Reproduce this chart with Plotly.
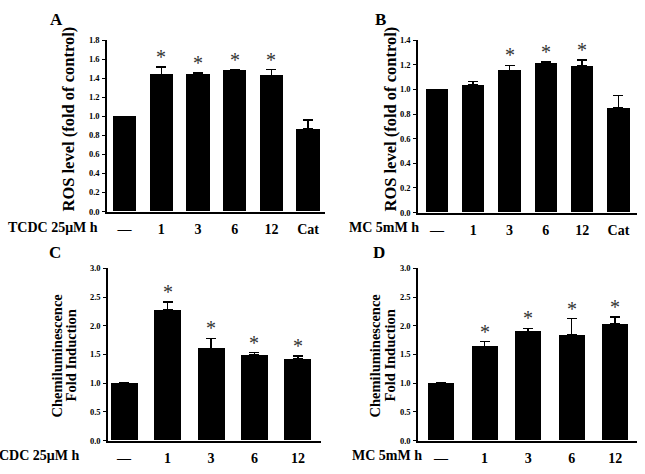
import plotly.graph_objects as go

# ---------------- data ----------------
cats_ab = ["—", "1", "3", "6", "12", "Cat"]
cats_cd = ["—", "1", "3", "6", "12"]

a_vals = [1.00, 1.44, 1.44, 1.48, 1.43, 0.87]
a_err = [0.00, 0.08, 0.015, 0.01, 0.06, 0.09]
a_sig = [False, True, True, True, True, False]

b_vals = [1.00, 1.035, 1.155, 1.213, 1.19, 0.85]
b_err = [0.00, 0.03, 0.04, 0.01, 0.05, 0.10]
b_sig = [False, False, True, True, True, False]

c_vals = [1.00, 2.27, 1.60, 1.49, 1.42]
c_err = [0.00, 0.14, 0.18, 0.04, 0.05]
c_sig = [False, True, True, True, True]

d_vals = [1.00, 1.64, 1.90, 1.84, 2.03]
d_err = [0.00, 0.085, 0.055, 0.285, 0.125]
d_sig = [False, True, True, True, True]

a_ticks = [0.0, 0.2, 0.4, 0.6, 0.8, 1.0, 1.2, 1.4, 1.6, 1.8]
b_ticks = [0.0, 0.2, 0.4, 0.6, 0.8, 1.0, 1.2, 1.4]
cd_ticks = [0.0, 0.5, 1.0, 1.5, 2.0, 2.5, 3.0]

ros_title = "ROS level (fold of control)"
chem_title = ["Chemiluminescence", "Fold Induction"]

# ---------------- layout helpers ----------------
W, H = 645, 474
SERIF = "Liberation Serif, Times New Roman, serif"


def fx(p):
    return p / W


def fy(p):
    return 1 - p / H


def xd(p0, p1):
    return [fx(p0), fx(p1)]


def yd(top, bottom):
    return [fy(bottom), fy(top)]


panels = [
    dict(name="A", cats=cats_ab, vals=a_vals, err=a_err, sig=a_sig, ticks=a_ticks,
         xdom=xd(107, 325), ydom=yd(36, 211), xr=[-0.48, 5.46], yr=[0, 1.8], bw=0.64,
         row="TCDC 25μM h", row_x=100, row_y=227, letter_xy=(56, 15),
         title=[ros_title], title_x=[69], title_y=117, title_size=16.5),
    dict(name="B", cats=cats_ab, vals=b_vals, err=b_err, sig=b_sig, ticks=b_ticks,
         xdom=xd(418, 637), ydom=yd(36, 212), xr=[-0.52, 5.51], yr=[0, 1.4], bw=0.62,
         row="MC 5mM h", row_x=421, row_y=227, letter_xy=(380, 15),
         title=[ros_title], title_x=[391], title_y=117, title_size=16.5),
    dict(name="C", cats=cats_cd, vals=c_vals, err=c_err, sig=c_sig, ticks=cd_ticks,
         xdom=xd(108, 321), ydom=yd(269, 445), xr=[-0.37, 4.53], yr=[0, 3.0], bw=0.62,
         row="CDC 25μM h", row_x=81, row_y=460, letter_xy=(55, 253),
         title=chem_title, title_x=[57, 71], title_y=358, title_size=14.5),
    dict(name="D", cats=cats_cd, vals=d_vals, err=d_err, sig=d_sig, ticks=cd_ticks,
         xdom=xd(418, 637), ydom=yd(269, 445), xr=[-0.53, 4.50], yr=[0, 3.0], bw=0.60,
         row="MC 5mM h", row_x=424, row_y=460, letter_xy=(379, 253),
         title=chem_title, title_x=[375, 390], title_y=358, title_size=14.5),
]

fig = go.Figure()
annotations = []
layout_axes = {}

for i, p in enumerate(panels):
    n = i + 1
    xa = "x" if n == 1 else f"x{n}"
    ya = "y" if n == 1 else f"y{n}"
    xkey = "xaxis" if n == 1 else f"xaxis{n}"
    ykey = "yaxis" if n == 1 else f"yaxis{n}"
    idx = list(range(len(p["cats"])))
    fig.add_trace(go.Bar(
        x=idx, y=p["vals"], xaxis=xa, yaxis=ya, width=p["bw"],
        marker=dict(color="black", line=dict(width=0)),
        error_y=dict(type="data", array=p["err"], symmetric=False,
                     arrayminus=[0] * len(p["err"]),
                     color="black", thickness=1.5, width=5, visible=True),
        showlegend=False, hoverinfo="skip",
    ))
    layout_axes[xkey] = dict(
        domain=p["xdom"], range=p["xr"], anchor=ya,
        tickmode="array", tickvals=idx, ticktext=p["cats"],
        ticks="", showgrid=False, zeroline=False,
        showline=True, linecolor="black", linewidth=1.5,
        tickfont=dict(family=SERIF, size=14, color="black", weight="bold"),
        ticklabelstandoff=4, fixedrange=True,
    )
    layout_axes[ykey] = dict(
        domain=p["ydom"], range=p["yr"], anchor=xa,
        tickmode="array", tickvals=p["ticks"],
        ticktext=[f"{t:.1f}" for t in p["ticks"]],
        ticks="outside", ticklen=3, tickwidth=1, tickcolor="black",
        showgrid=False, zeroline=False,
        showline=True, linecolor="black", linewidth=1.5,
        tickfont=dict(family=SERIF, size=8.5, color="black", weight="bold"),
        ticklabelstandoff=1, fixedrange=True,
    )
    # significance stars
    for j, s in enumerate(p["sig"]):
        if s:
            annotations.append(dict(
                x=j, y=p["vals"][j] + p["err"][j], xref=xa, yref=ya,
                text="*", showarrow=False, yanchor="bottom", yshift=-3,
                font=dict(family=SERIF, size=20, color="#333"),
            ))
    # row label
    annotations.append(dict(
        x=fx(p["row_x"]), y=fy(p["row_y"]), xref="paper", yref="paper",
        text=p["row"], showarrow=False, xanchor="right", yanchor="middle",
        font=dict(family=SERIF, size=14, color="black", weight="bold"),
    ))
    # panel letter
    lx, ly = p["letter_xy"]
    annotations.append(dict(
        x=fx(lx), y=fy(ly), xref="paper", yref="paper",
        text=p["name"], showarrow=False, xanchor="center", yanchor="middle",
        font=dict(family=SERIF, size=17, color="black", weight="bold"),
    ))
    # y titles
    for t, tx in zip(p["title"], p["title_x"]):
        annotations.append(dict(
            x=fx(tx), y=fy(p["title_y"]), xref="paper", yref="paper",
            text=t, showarrow=False, textangle=-90,
            xanchor="center", yanchor="middle",
            font=dict(family=SERIF, size=p["title_size"], color="black", weight="bold"),
        ))

fig.update_layout(
    width=W, height=H, margin=dict(l=0, r=0, t=0, b=0),
    paper_bgcolor="white", plot_bgcolor="white",
    annotations=annotations, bargap=0, **layout_axes,
)

fig.write_html("out.html", config={"displayModeBar": False},
               post_script="document.body.style.margin='0px';")
